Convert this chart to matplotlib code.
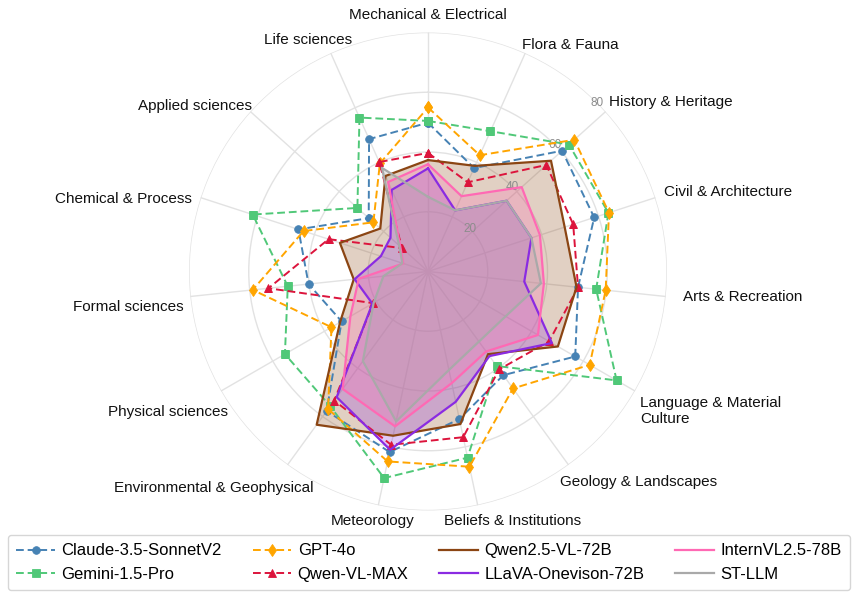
import numpy as np
import matplotlib
matplotlib.use("Agg")
import matplotlib.pyplot as plt

plt.rcParams['font.family'] = ['Liberation Sans', 'DejaVu Sans']

categories = ["Mechanical & Electrical", "Flora & Fauna", "History & Heritage",
              "Civil & Architecture", "Arts & Recreation", "Language & Material\nCulture",
              "Geology & Landscapes", "Beliefs & Institutions", "Meteorology",
              "Environmental & Geophysical", "Physical sciences", "Formal sciences",
              "Chemical & Process", "Applied sciences", "Life sciences"]

claude = [49.8, 37.9, 60.4, 58.5, 50.5, 56.9, 42.9, 50.5, 61.8, 57.7, 33.4, 40.2, 45.6, 26.7, 48.5]
gemini = [50.4, 51.4, 63.5, 63.5, 56.6, 72.9, 39.1, 63.7, 70.7, 55.7, 55.3, 47.2, 61.7, 31.8, 56.4]
gpt4o = [54.9, 42.6, 65.9, 63.7, 59.8, 62.5, 48.4, 66.8, 65.0, 56.9, 37.3, 59.0, 43.8, 24.6, 39.6]
qwen_vl_max = [39.7, 32.7, 53.3, 51.1, 50.5, 46.8, 40.5, 56.7, 59.3, 53.4, 21.2, 53.7, 35.0, 11.7, 40.1]
qwen25_vl = [37.3, 38.7, 55.4, 48.1, 50.0, 50.2, 34.2, 52.2, 56.2, 63.4, 34.0, 25.0, 31.0, 21.5, 35.0]
llava_ov = [34.5, 22.4, 35.4, 36.4, 32.4, 47.9, 35.0, 44.6, 61.0, 52.0, 21.5, 24.7, 16.6, 16.9, 29.9]
internvl = [35.9, 27.6, 42.2, 39.4, 39.0, 42.5, 33.1, 38.2, 53.0, 48.6, 30.0, 23.3, 8.7, 12.5, 32.8]
st_llm = [25.0, 22.4, 35.4, 36.4, 38.0, 30.0, 29.0, 33.7, 51.3, 37.1, 21.0, 15.0, 9.0, 13.0, 38.0]

r_ticks = [20, 40, 60, 80]

dashed_series = [
    ("Claude-3.5-SonnetV2", claude, "#4682B4", "o", 5.5),
    ("Gemini-1.5-Pro", gemini, "#50C878", "s", 5.5),
    ("GPT-4o", gpt4o, "#FFA500", "d", 6.5),
    ("Qwen-VL-MAX", qwen_vl_max, "#DC143C", "^", 6.0),
]
filled_series = [
    ("Qwen2.5-VL-72B", qwen25_vl, "#8B4513"),
    ("LLaVA-Onevison-72B", llava_ov, "#8A2BE2"),
    ("InternVL2.5-78B", internvl, "#FF69B4"),
    ("ST-LLM", st_llm, "#A9A9A9"),
]

W, H = 856, 596
fig = plt.figure(figsize=(W / 100, H / 100), dpi=100)
cx, cy, R = 428, 271.5, 239
ax = fig.add_axes([(cx - R) / W, 1 - (cy + R) / H, 2 * R / W, 2 * R / H], projection='polar')
ax.set_theta_zero_location('N')
ax.set_theta_direction(-1)

n = len(categories)
theta = np.linspace(0, 2 * np.pi, n, endpoint=False)
theta_c = np.concatenate([theta, theta[:1]])

def close(v):
    return np.concatenate([v, v[:1]])

for name, vals, col, mk, ms in dashed_series:
    ax.plot(theta_c, close(vals), color=col, lw=1.4, ls=(0, (4, 2)), marker=mk,
            ms=ms, markeredgewidth=0.6, label=name)

for name, vals, col in filled_series:
    ax.fill(theta_c, close(vals), color=col, alpha=0.25, lw=0)
    ax.plot(theta_c, close(vals), color=col, lw=1.6, label=name)

ax.set_ylim(0, 80)
ax.set_yticks(r_ticks)
ax.set_yticklabels([])
ax.set_xticks(theta)
ax.set_xticklabels([])
ax.grid(True, color="#e2e2e2", lw=1.0)
ax.spines['polar'].set_visible(False)
ax.set_axisbelow(True)
for rv in r_ticks:
    ax.text(np.deg2rad(45), rv, str(rv), color="#8c8c8c", fontsize=8.5, ha='center',
            va='center', zorder=1)

# category labels (figure pixel anchors)
label_pos = [
    (428, 15, 'center'), (522, 45, 'left'), (609, 102, 'left'), (664, 192, 'left'),
    (683, 297, 'left'), (640, 411, 'left'), (560, 482, 'left'), (444, 521, 'left'),
    (414, 521, 'right'), (313, 488, 'right'), (228, 412, 'right'), (184, 307, 'right'),
    (192, 199, 'right'), (252, 106, 'right'), (352, 40, 'right'),
]
for lab, (x, y, ha) in zip(categories, label_pos):
    fig.text(x / W, 1 - y / H, lab, ha=ha, va='center', fontsize=11, color="#111111",
             linespacing=1.2)

leg = fig.legend(loc='lower left', bbox_to_anchor=(8 / W, 6 / H, 842 / W, 54 / H),
                 mode='expand', ncol=4, fontsize=12, frameon=True, handlelength=2.3,
                 borderaxespad=0, columnspacing=1.0, handletextpad=0.4, borderpad=0.5)
leg.get_frame().set_edgecolor("#cccccc")
leg.get_frame().set_linewidth(1.0)

fig.savefig("out.png", dpi=100)
